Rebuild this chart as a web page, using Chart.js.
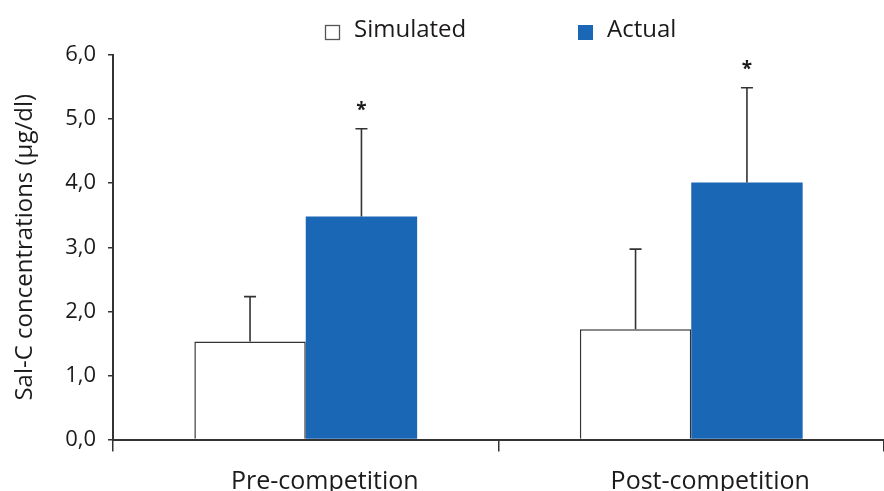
<!DOCTYPE html>
<html>
<head>
<meta charset="utf-8">
<script src="https://cdn.jsdelivr.net/npm/chart.js@4.4.1/dist/chart.umd.min.js"></script>
<style>
  html, body { margin: 0; padding: 0; background: #ffffff; }
  #wrap { width: 884px; height: 491px; position: relative; }
</style>
</head>
<body>
<div id="wrap"><canvas id="chart" width="884" height="491"></canvas></div>
<script>
// Salivary cortisol, mean + SD, by phase
const categories = ['Pre-competition', 'Post-competition'];
const seriesNames = ['Simulated', 'Actual'];
const simulatedMean = [1.53, 1.72];
const simulatedSD = [0.70, 1.25];
const actualMean = [3.48, 4.01];
const actualSD = [1.37, 1.48];
const actualSignificant = [true, true];
const yTicks = [0, 1, 2, 3, 4, 5, 6];

const FONT = '"Open Sans", "Noto Sans", sans-serif';
const INK = '#1d1a1b';
const AXIS = '#333333';
const BLUE = '#1a67b6';

// upper-only error bars with caps, plus significance asterisks
const errorBars = {
  id: 'errorBars',
  afterDatasetsDraw(chart, args, opts) {
    const ctx = chart.ctx;
    const y = chart.scales.y;
    ctx.save();
    chart.data.datasets.forEach((ds, di) => {
      const meta = chart.getDatasetMeta(di);
      meta.data.forEach((bar, i) => {
        const top = y.getPixelForValue(ds.data[i] + ds.errors[i]);
        ctx.strokeStyle = AXIS;
        ctx.lineWidth = 1.6;
        ctx.beginPath();
        ctx.moveTo(bar.x, bar.y);
        ctx.lineTo(bar.x, top);
        ctx.moveTo(bar.x - 6, top);
        ctx.lineTo(bar.x + 6, top);
        ctx.stroke();
        if (ds.significant && ds.significant[i]) {
          ctx.fillStyle = INK;
          ctx.font = 'bold 19px ' + FONT;
          ctx.textAlign = 'center';
          ctx.textBaseline = 'middle';
          ctx.fillText('*', bar.x, top - 18);
        }
      });
    });
    ctx.restore();
  }
};

// legend row drawn above the plot
const topLegend = {
  id: 'topLegend',
  afterDraw(chart, args, opts) {
    const ctx = chart.ctx;
    ctx.save();
    ctx.font = '500 24px ' + FONT;
    ctx.textBaseline = 'alphabetic';
    ctx.textAlign = 'left';
    chart.data.datasets.forEach((ds, i) => {
      const x = opts.itemX[i];
      const bx = opts.boxSize;
      ctx.fillStyle = ds.backgroundColor;
      ctx.fillRect(x, opts.boxY, bx, bx);
      if (ds.borderWidth) {
        ctx.strokeStyle = '#555';
        ctx.lineWidth = 1.3;
        ctx.strokeRect(x + 0.5, opts.boxY + 0.5, bx - 1, bx - 1);
      }
      ctx.fillStyle = INK;
      ctx.fillText(ds.label, x + bx + opts.gap, opts.baseline);
    });
    ctx.restore();
  }
};

new Chart(document.getElementById('chart'), {
  type: 'bar',
  data: {
    labels: categories,
    datasets: [
      {
        label: seriesNames[0],
        data: simulatedMean,
        errors: simulatedSD,
        backgroundColor: '#ffffff',
        borderColor: AXIS,
        borderWidth: 1.5,
        borderSkipped: 'bottom',
        categoryPercentage: 0.578,
        barPercentage: 1.0
      },
      {
        label: seriesNames[1],
        data: actualMean,
        errors: actualSD,
        significant: actualSignificant,
        backgroundColor: BLUE,
        borderWidth: 0,
        categoryPercentage: 0.578,
        barPercentage: 1.0
      }
    ]
  },
  options: {
    responsive: false,
    devicePixelRatio: 1,
    animation: false,
    layout: { padding: { top: 55, right: 0, bottom: 0, left: 0 } },
    plugins: {
      legend: { display: false },
      tooltip: { enabled: false },
      topLegend: { itemX: [325, 578], boxY: 25, boxSize: 15, gap: 14, baseline: 37 }
    },
    scales: {
      x: {
        type: 'category',
        offset: true,
        grid: { offset: true, drawOnChartArea: false, tickLength: 12, color: AXIS, lineWidth: 1.5 },
        border: { color: AXIS, width: 2 },
        ticks: { color: INK, font: { family: FONT, size: 25, weight: '500' }, padding: 15, labelOffset: 19, maxRotation: 0 },
        afterFit(scale) { scale.height = 51.5; }
      },
      y: {
        min: 0,
        max: 6,
        afterBuildTicks(scale) { scale.ticks = yTicks.map(v => ({ value: v })); },
        grid: { drawOnChartArea: false, tickLength: 5, color: AXIS, lineWidth: 1.5 },
        border: { color: AXIS, width: 2 },
        ticks: {
          color: INK,
          font: { family: FONT, size: 22, weight: '500' },
          padding: 12,
          callback: v => v.toFixed(1).replace('.', ',')
        },
        title: {
          display: true,
          text: 'Sal-C concentrations (µg/dl)',
          color: INK,
          font: { family: FONT, size: 24, weight: '500' },
          padding: { top: 11, bottom: 0 }
        },
        afterFit(scale) { scale.width = 113; }
      }
    }
  },
  plugins: [errorBars, topLegend]
});
</script>
</body>
</html>
